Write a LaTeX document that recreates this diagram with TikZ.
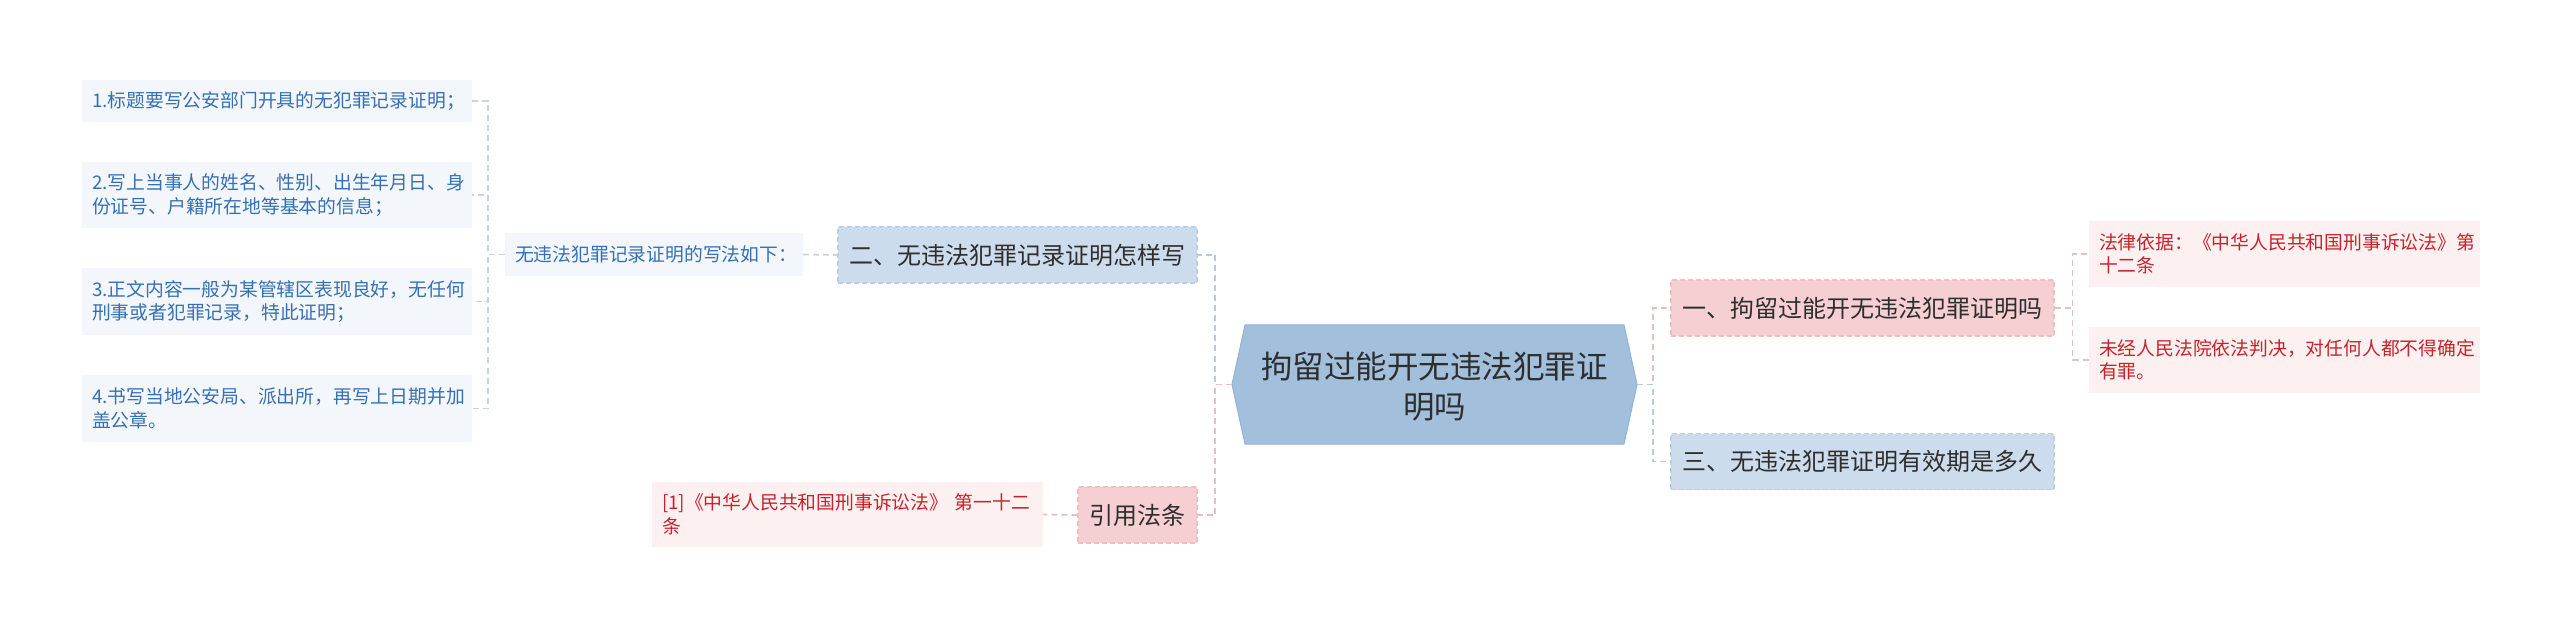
\documentclass[tikz,border=0pt]{standalone}
\usepackage{fontspec}
\setmainfont{Noto Sans CJK SC}
\usetikzlibrary{calc}
\definecolor{lbBg}{HTML}{F3F7FC}
\definecolor{lbTx}{HTML}{3570B5}
\definecolor{rpBg}{HTML}{FCF0F1}
\definecolor{rpTx}{HTML}{C8232C}
\definecolor{nbFill}{HTML}{CCDCEC}
\definecolor{nbLine}{HTML}{BDCFE2}
\definecolor{npFill}{HTML}{F5CFD2}
\definecolor{npLine}{HTML}{EEBEC2}
\definecolor{hexFill}{HTML}{A2BFDC}
\definecolor{hexLine}{HTML}{93B2D4}
\definecolor{mainTx}{HTML}{2E2E2E}
\definecolor{cBlue}{HTML}{B7CBE0}
\definecolor{cPink}{HTML}{EBBDC1}
\definecolor{cLeaf}{HTML}{C9D4E0}
\definecolor{cLeafP}{HTML}{DEC4C7}
\tikzset{
  conn/.style={line width=1.7pt, dash pattern=on 6pt off 4pt},
  smalltext/.style={font=\fontsize{18.8pt}{23.5pt}\selectfont},
  leafL/.style={smalltext, fill=lbBg, text=lbTx, inner xsep=10pt, inner ysep=0pt,
    text width=370pt, align=left, minimum height=#1},
  leafS/.style={smalltext, fill=lbBg, text=lbTx, inner xsep=10pt, inner ysep=0pt,
    text width=278pt, align=left, minimum height=43pt},
  leafR/.style={smalltext, fill=rpBg, text=rpTx, inner xsep=10pt, inner ysep=0pt,
    text width=371pt, align=left, minimum height=#1},
  mainbox/.style={font=\fontsize{24pt}{30pt}\selectfont, text=mainTx, inner xsep=0pt,
    inner ysep=0pt, minimum height=56pt, line width=1.2pt, dash pattern=on 5pt off 3pt},
  mainB/.style={mainbox, fill=nbFill, draw=nbLine},
  mainP/.style={mainbox, fill=npFill, draw=npLine},
}
\begin{document}
\begin{tikzpicture}[x=1pt,y=-1pt]
\useasboundingbox (0,0) rectangle (2560,628);
\fill[white] (0,0) rectangle (2560,628);

% left leaves
\node[leafL=42pt] (l1) at (277,101) {1.标题要写公安部门开具的无犯罪记录证明；};
\node[leafL=66pt] (l2) at (277,195) {2.写上当事人的姓名、性别、出生年月日、身\\份证号、户籍所在地等基本的信息；};
\node[leafL=67pt] (l3) at (277,301.5) {3.正文内容一般为某管辖区表现良好，无任何\\刑事或者犯罪记录，特此证明；};
\node[leafL=67pt] (l4) at (277,408.5) {4.书写当地公安局、派出所，再写上日期并加\\盖公章。};

\node[leafS] (s) at (654,254.5) {无违法犯罪记录证明的写法如下：};

\node[mainB, minimum width=359pt] (n2) at (1017.5,255) {二、无违法犯罪记录证明怎样写};
\node[mainP, minimum width=119pt] (ref) at (1137.5,515) {引用法条};
\node[leafR=65pt] (rl) at (847.5,514.5) {[1]《中华人民共和国刑事诉讼法》 第一十二\\条};

% center hexagon
\coordinate (hw) at (1232,384.5);
\coordinate (he) at (1637,384.5);
\filldraw[fill=hexFill, draw=hexLine, line width=1pt] (hw) -- (1245,325) -- (1624,325) -- (he) -- (1624,444) -- (1245,444) -- cycle;
\node[font=\fontsize{31.5pt}{40pt}\selectfont, text=mainTx, align=center] (c) at (1434.5,387) {拘留过能开无违法犯罪证\\明吗};

% right side
\node[mainP, minimum width=383pt] (n1) at (1862.5,308) {一、拘留过能开无违法犯罪证明吗};
\node[mainB, minimum width=383pt] (n3) at (1862.5,461.5) {三、无违法犯罪证明有效期是多久};
\node[leafR=66pt] (r1) at (2284.5,254) {法律依据：《中华人民共和国刑事诉讼法》第\\十二条};
\node[leafR=66pt] (r2) at (2284.5,360) {未经人民法院依法判决，对任何人都不得确定\\有罪。};

% connectors
\foreach \t in {l1,l2,l3,l4}
  \draw[conn, cLeaf] (s.west) -- ++(-17,0) |- (\t.east);
\draw[conn, cLeaf] (s.east) -- (n2.west);
\draw[conn, cBlue] (hw) -- ++(-17,0) |- (n2.east);
\draw[conn, cPink] (hw) -- ++(-17,0) |- (ref.east);
\draw[conn, cPink] (ref.west) -- (rl.east);
\draw[conn, cPink] (he) -- ++(16,0) |- (n1.west);
\draw[conn, cBlue] (he) -- ++(16,0) |- (n3.west);
\draw[conn, cLeafP] (n1.east) -- ++(18,0) |- (r1.west);
\draw[conn, cLeafP] (n1.east) -- ++(18,0) |- (r2.west);
\end{tikzpicture}
\end{document}
